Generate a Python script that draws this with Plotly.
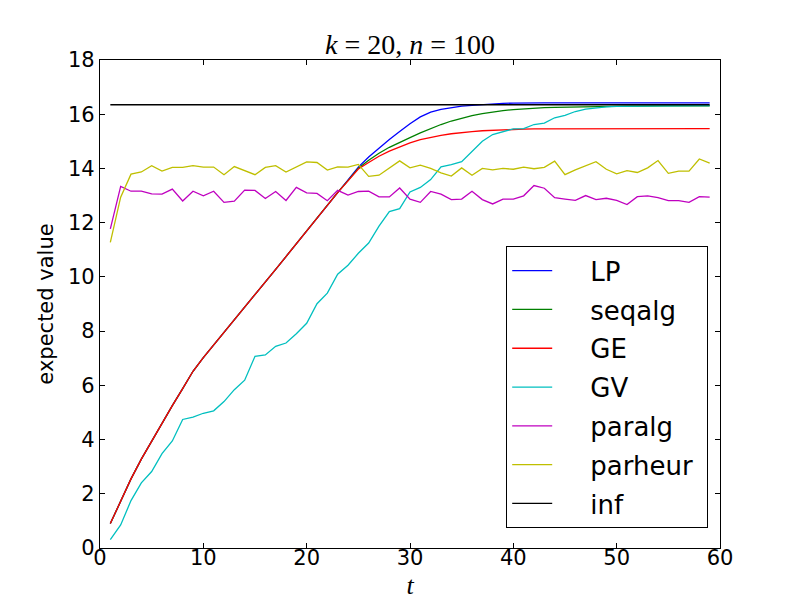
import plotly.graph_objects as go

t = list(range(1, 60))

lp = [0.90, 1.75, 2.55, 3.28, 3.95, 4.60, 5.25, 5.88, 6.52, 7.02,
      7.48, 7.95, 8.42, 8.88, 9.35, 9.81, 10.28, 10.75, 11.22, 11.72,
      12.18, 12.65, 13.12, 13.56, 14.05, 14.42, 14.76, 15.07, 15.36, 15.65,
      15.90, 16.08, 16.18, 16.25, 16.30, 16.33, 16.36, 16.38, 16.40, 16.41,
      16.42, 16.42, 16.42, 16.42, 16.42, 16.42, 16.42, 16.42, 16.42, 16.42,
      16.42, 16.42, 16.42, 16.42, 16.42, 16.42, 16.42, 16.42, 16.42]

seqalg = [0.90, 1.75, 2.55, 3.28, 3.95, 4.60, 5.25, 5.88, 6.52, 7.02,
          7.48, 7.95, 8.42, 8.88, 9.35, 9.81, 10.28, 10.75, 11.22, 11.72,
          12.18, 12.65, 13.12, 13.55, 14.01, 14.30, 14.56, 14.78, 14.97, 15.14,
          15.31, 15.47, 15.62, 15.75, 15.86, 15.95, 16.02, 16.08, 16.13, 16.17,
          16.20, 16.22, 16.24, 16.25, 16.26, 16.27, 16.28, 16.29, 16.29, 16.30,
          16.30, 16.30, 16.31, 16.31, 16.31, 16.31, 16.31, 16.31, 16.31]

ge = [0.90, 1.75, 2.55, 3.28, 3.95, 4.60, 5.25, 5.88, 6.52, 7.02,
      7.48, 7.95, 8.42, 8.88, 9.35, 9.81, 10.28, 10.75, 11.22, 11.72,
      12.18, 12.65, 13.11, 13.54, 13.98, 14.22, 14.45, 14.64, 14.80, 14.94,
      15.06, 15.15, 15.22, 15.28, 15.33, 15.36, 15.39, 15.41, 15.43, 15.44,
      15.45, 15.46, 15.46, 15.46, 15.47, 15.47, 15.47, 15.47, 15.47, 15.47,
      15.47, 15.47, 15.47, 15.47, 15.47, 15.47, 15.47, 15.47, 15.47]

gv = [0.31, 0.85, 1.75, 2.40, 2.82, 3.48, 3.95, 4.74, 4.83, 4.97,
      5.06, 5.40, 5.84, 6.19, 7.07, 7.12, 7.44, 7.56, 7.90, 8.29,
      9.01, 9.40, 10.10, 10.43, 10.87, 11.25, 11.87, 12.41, 12.52, 13.13,
      13.30, 13.59, 14.06, 14.14, 14.25, 14.62, 15.00, 15.25, 15.35, 15.46,
      15.47, 15.62, 15.67, 15.87, 15.96, 16.10, 16.19, 16.24, 16.27, 16.29,
      16.30, 16.30, 16.31, 16.31, 16.31, 16.32, 16.32, 16.32, 16.32]

paralg = [11.77, 13.34, 13.16, 13.16, 13.06, 13.05, 13.24, 12.80, 13.16, 12.99,
          13.16, 12.75, 12.79, 13.20, 13.19, 12.89, 13.15, 12.82, 13.30, 13.10,
          13.08, 12.81, 13.19, 13.02, 13.15, 13.16, 12.95, 12.95, 13.28, 12.87,
          12.75, 13.15, 13.05, 12.85, 12.87, 13.16, 12.85, 12.69, 12.87, 12.87,
          12.99, 13.37, 13.27, 12.92, 12.87, 12.82, 13.00, 12.85, 12.90, 12.82,
          12.67, 12.96, 12.99, 12.92, 12.81, 12.81, 12.75, 12.96, 12.94]

parheur = [11.27, 12.94, 13.79, 13.87, 14.10, 13.90, 14.04, 14.04, 14.10, 14.05,
           14.05, 13.77, 14.07, 13.92, 13.77, 14.04, 14.10, 13.87, 14.07, 14.24,
           14.22, 13.94, 14.06, 14.05, 14.15, 13.71, 13.75, 14.00, 14.28, 14.02,
           14.12, 14.00, 13.84, 13.72, 14.02, 13.75, 14.00, 13.95, 14.00, 13.97,
           14.05, 13.99, 14.04, 14.27, 13.77, 13.95, 14.10, 14.25, 13.97, 13.80,
           13.92, 13.85, 14.02, 14.29, 13.82, 13.90, 13.90, 14.35, 14.20]

inf_t = [1, 59]
inf_v = [16.35, 16.35]

series = [
    ("LP", t, lp, "#0000ff"),
    ("seqalg", t, seqalg, "#008000"),
    ("GE", t, ge, "#ff0000"),
    ("GV", t, gv, "#00bfbf"),
    ("paralg", t, paralg, "#bf00bf"),
    ("parheur", t, parheur, "#bfbf00"),
    ("inf", inf_t, inf_v, "#000000"),
]

fig = go.Figure()
for name, xs, ys, col in series:
    fig.add_trace(go.Scatter(x=xs, y=ys, mode="lines",
                             name="\u00a0\u00a0\u00a0\u00a0" + name + "\u00a0",
                             legendgroup=name,
                             line=dict(color=col, width=1.3)))

axis_common = dict(showline=True, linecolor="black", linewidth=1.2, mirror="ticks",
                   ticks="inside", ticklen=5, tickcolor="black", showgrid=False,
                   zeroline=False, automargin=False,
                   tickfont=dict(family="DejaVu Sans", size=21, color="black"))

# the page body has an 8px margin, so the figure is 8px smaller and margins compensate
fig.update_layout(
    width=792, height=592,
    margin=dict(l=92, r=80, t=52, b=52, autoexpand=False),
    paper_bgcolor="white", plot_bgcolor="white",
    title=dict(text="<i>k</i> = 20, <i>n</i> = 100",
               font=dict(family="Liberation Serif", size=28, color="black"),
               x=0.5, xref="paper", xanchor="center",
               y=1, yref="paper", yanchor="bottom", pad=dict(b=6),
               automargin=False),
    xaxis=dict(range=[0, 60], dtick=10, tick0=0, ticklabelstandoff=-9,
               title=dict(text="<i>t</i>", font=dict(family="Liberation Serif", size=26, color="black"),
                          standoff=6),
               **axis_common),
    yaxis=dict(range=[0, 18], dtick=2, tick0=0,
               title=dict(text="expected value", font=dict(family="DejaVu Sans", size=21, color="black"),
                          standoff=8),
               **axis_common),
    legend=dict(x=(506 - 100) / 620, y=(540 - 243) / 480, xanchor="left", yanchor="top",
                bordercolor="black", borderwidth=1.2, bgcolor="white",
                font=dict(family="DejaVu Sans", size=26, color="black"),
                traceorder="grouped", tracegroupgap=2, itemwidth=40),
    showlegend=True,
)

fig.write_html("out.html")
